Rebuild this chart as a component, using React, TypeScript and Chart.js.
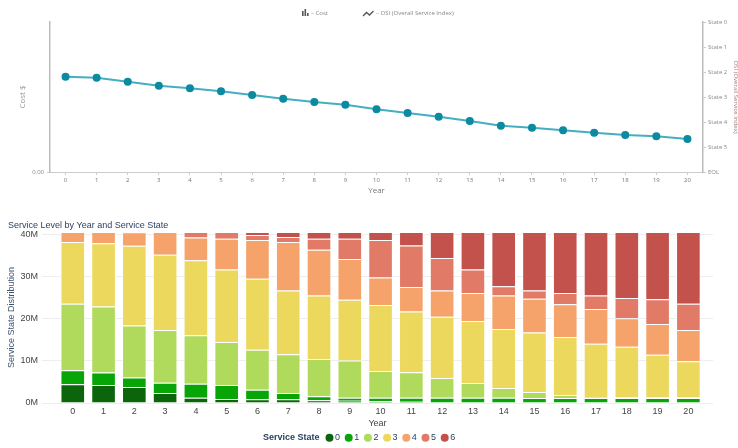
import React, { useEffect, useRef } from "react";
import { Chart, registerables } from "chart.js";
Chart.register(...registerables);

const YEARS = [0, 1, 2, 3, 4, 5, 6, 7, 8, 9, 10, 11, 12, 13, 14, 15, 16, 17, 18, 19, 20];
const YEAR_LABELS = ["0", "1", "2", "3", "4", "5", "6", "7", "8", "9", "10", "11", "12", "13", "14", "15", "16", "17", "18", "19", "20"];

// Overall Service Index (0 = State 0 ... 6 = EOL)
const OSI = [2.19, 2.23, 2.39, 2.55, 2.65, 2.77, 2.92, 3.07, 3.2, 3.31, 3.49, 3.64, 3.79, 3.96, 4.15, 4.23, 4.33, 4.43, 4.52, 4.57, 4.68];
const OSI_TICK_LABELS = ["State 0", "State 1", "State 2", "State 3", "State 4", "State 5", "EOL"];

// Service state distribution, millions
const STATE_0 = [4.45, 4.3, 3.8, 2.4, 1.27, 0.95, 0.87, 0.87, 0.64, 0.56, 0.4, 0.3, 0, 0, 0, 0, 0, 0, 0, 0, 0];
const STATE_1 = [3.35, 2.94, 2.25, 2.4, 3.33, 3.35, 2.31, 1.52, 0.95, 0.71, 0.87, 0.97, 1.27, 1.27, 1.27, 1.2, 1.2, 1.2, 1.2, 1.2, 1.2];
const STATE_2 = [15.8, 15.7, 12.4, 12.6, 11.5, 10.2, 9.47, 9.21, 8.91, 8.83, 6.33, 6.03, 4.7, 3.5, 2.31, 1.43, 0.7, 0.2, 0.15, 0.15, 0.15];
const STATE_3 = [14.7, 15.1, 19.0, 17.9, 17.9, 17.3, 16.95, 15.2, 15.1, 14.5, 15.7, 14.5, 14.53, 14.73, 14.02, 14.17, 13.8, 12.7, 12.05, 10.15, 8.6];
const STATE_4 = [2.4, 2.66, 3.2, 5.4, 5.4, 7.3, 9.2, 11.5, 10.9, 9.7, 6.6, 5.8, 6.3, 6.7, 8.0, 8.0, 7.8, 8.3, 6.8, 7.3, 7.45];
const STATE_5 = [0, 0, 0.05, 0.15, 1.3, 1.6, 1.2, 1.2, 2.6, 4.8, 8.9, 9.9, 7.7, 5.6, 2.2, 2.0, 2.7, 3.2, 4.8, 5.9, 6.2];
const STATE_6 = [0, 0, 0, 0, 0, 0, 0.7, 1.2, 1.6, 1.6, 1.9, 3.2, 6.2, 8.9, 12.9, 13.9, 14.5, 15.1, 15.7, 16.0, 17.1];
const STATE_NAMES = ["0", "1", "2", "3", "4", "5", "6"];
const STATE_COLORS = ["#0b650b", "#08a508", "#b0da5c", "#ecd85c", "#f5a36a", "#e27a68", "#c4524c"];
const Y_TICKS = [0, 10, 20, 30, 40];
const Y_MAX = 40.7;

const TOP_FONT = "'Open Sans', sans-serif";
const BOT_FONT = "'Liberation Sans', Arial, sans-serif";

const topLegendPlugin = {
  id: "topLegend",
  afterDraw(chart: any) {
    const ctx = chart.ctx;
    ctx.save();
    ctx.fillStyle = "#555";
    // bar icon
    ctx.fillRect(302, 11, 1.6, 5);
    ctx.fillRect(304.5, 9, 1.6, 7);
    ctx.fillRect(307, 13, 1.6, 3);
    // line icon
    ctx.strokeStyle = "#555";
    ctx.lineWidth = 1.3;
    ctx.beginPath();
    ctx.moveTo(363, 16);
    ctx.lineTo(366.5, 12.5);
    ctx.lineTo(369.5, 15);
    ctx.lineTo(373.5, 11);
    ctx.stroke();
    ctx.fillStyle = "#888";
    ctx.font = `6px ${TOP_FONT}`;
    ctx.textBaseline = "middle";
    ctx.textAlign = "left";
    ctx.fillText("– Cost", 311, 13.5);
    ctx.fillText("– OSI (Overall Service Index)", 376, 13.5);
    ctx.restore();
  },
};

const botDecorPlugin = {
  id: "botDecor",
  afterDraw(chart: any) {
    const ctx = chart.ctx;
    ctx.save();
    ctx.textBaseline = "middle";
    ctx.textAlign = "left";
    ctx.fillStyle = "#2a3f5f";
    ctx.font = `9px ${BOT_FONT}`;
    ctx.fillText("Service Level by Year and Service State", 8, 21);
    // legend
    const ly = 232.7;
    ctx.font = `bold 9px ${BOT_FONT}`;
    ctx.fillText("Service State", 263, ly);
    ctx.font = `9px ${BOT_FONT}`;
    STATE_NAMES.forEach((name, i) => {
      const cx = 329.5 + i * 19.2;
      ctx.beginPath();
      ctx.fillStyle = STATE_COLORS[i];
      ctx.arc(cx, ly, 4, 0, Math.PI * 2);
      ctx.fill();
      ctx.fillStyle = "#2a3f5f";
      ctx.fillText(name, cx + 5.5, ly);
    });
    ctx.restore();
  },
};

export default function App() {
  const topRef = useRef<HTMLCanvasElement>(null);
  const botRef = useRef<HTMLCanvasElement>(null);

  useEffect(() => {
    const topChart = new Chart(topRef.current as HTMLCanvasElement, {
      type: "line",
      data: {
        labels: YEAR_LABELS,
        datasets: [
          {
            label: "OSI (Overall Service Index)",
            data: OSI,
            yAxisID: "yOsi",
            borderColor: "#45aec2",
            borderWidth: 2,
            pointRadius: 4,
            pointBackgroundColor: "#0b8aa0",
            pointBorderColor: "#0b8aa0",
            pointBorderWidth: 0,
            tension: 0,
          },
        ],
      },
      options: {
        responsive: false,
        animation: false,
        layout: { padding: { top: 22, right: 0, bottom: 9, left: 0 } },
        plugins: { legend: { display: false }, tooltip: { enabled: false } },
        scales: {
          x: {
            type: "category",
            offset: true,
            grid: { display: true, drawOnChartArea: false, tickLength: 3, color: "#ccc" },
            border: { color: "#ccc" },
            ticks: { font: { family: TOP_FONT, size: 6 }, color: "#777", padding: 2, maxRotation: 0, autoSkip: false },
            title: { display: true, text: "Year", font: { family: TOP_FONT, size: 8 }, color: "#777", padding: 0 },
            afterFit: (s: any) => {
              s.height = 24;
            },
          },
          yCost: {
            type: "linear",
            position: "left",
            min: 0,
            max: 1,
            afterBuildTicks: (s: any) => {
              s.ticks = [{ value: 0 }];
            },
            ticks: { callback: (v: any) => Number(v).toFixed(2), font: { family: TOP_FONT, size: 6 }, color: "#888", padding: 3 },
            grid: { display: true, drawOnChartArea: false, tickLength: 3, color: "#ccc" },
            border: { color: "#bbb", width: 1.5 },
            title: { display: true, text: "Cost $", font: { family: TOP_FONT, size: 8 }, color: "#999", padding: { top: 18, bottom: 0 } },
            afterFit: (s: any) => {
              s.width = 50;
            },
          },
          yOsi: {
            type: "linear",
            position: "right",
            reverse: true,
            min: 0,
            max: 6,
            ticks: {
              stepSize: 1,
              callback: (v: any) => OSI_TICK_LABELS[v],
              font: { family: TOP_FONT, size: 6 },
              color: "#888",
              padding: 2,
            },
            grid: { display: true, drawOnChartArea: false, tickLength: 3, color: "#ccc" },
            border: { color: "#bbb", width: 1.5 },
            title: { display: true, text: "OSI (Overall Service Index)", font: { family: TOP_FONT, size: 6 }, color: "#a07a78", padding: { top: -1, bottom: 0 } },
            afterFit: (s: any) => {
              s.width = 35;
            },
          },
        },
      },
      plugins: [topLegendPlugin],
    });

    const series = [STATE_0, STATE_1, STATE_2, STATE_3, STATE_4, STATE_5, STATE_6];
    const botChart = new Chart(botRef.current as HTMLCanvasElement, {
      type: "bar",
      data: {
        datasets: series.map((vals, i) => ({
          label: STATE_NAMES[i],
          data: YEARS.map((yr, j) => ({ x: yr, y: vals[j] })),
          backgroundColor: STATE_COLORS[i],
          borderColor: "rgba(255,255,255,0.35)",
          borderWidth: 1,
          barPercentage: 1,
          categoryPercentage: 0.8,
        })),
      },
      options: {
        responsive: false,
        animation: false,
        layout: { padding: { top: 27, right: 25, bottom: 19, left: 0 } },
        plugins: { legend: { display: false }, tooltip: { enabled: false } },
        scales: {
          x: {
            type: "linear",
            stacked: true,
            offset: false,
            min: -1,
            max: 20.8,
            afterBuildTicks: (s: any) => {
              s.ticks = YEARS.map((y) => ({ value: y }));
            },
            grid: { display: false, drawTicks: false },
            border: { display: false },
            ticks: { font: { family: BOT_FONT, size: 9 }, color: "#444", padding: 3, maxRotation: 0, autoSkip: false },
            title: { display: true, text: "Year", font: { family: BOT_FONT, size: 9 }, color: "#444", padding: 0 },
            afterFit: (s: any) => {
              s.height = 26;
            },
          },
          y: {
            type: "linear",
            stacked: true,
            min: 0,
            max: Y_MAX,
            afterBuildTicks: (s: any) => {
              s.ticks = Y_TICKS.map((v) => ({ value: v }));
            },
            ticks: { callback: (v: any) => `${v}M`, font: { family: BOT_FONT, size: 9 }, color: "#444", padding: 4 },
            grid: { color: "#eeeeee", drawTicks: false },
            border: { display: false },
            title: { display: true, text: "Service State Distribution", font: { family: BOT_FONT, size: 9 }, color: "#3d5470", padding: { top: 6, bottom: 0 } },
            afterFit: (s: any) => {
              s.width = 42;
            },
          },
        },
      },
      plugins: [botDecorPlugin],
    });

    return () => {
      topChart.destroy();
      botChart.destroy();
    };
  }, []);

  return (
    <div style={{ position: "absolute", left: 0, top: 0, width: 738, height: 448, background: "#fff" }}>
      <canvas ref={topRef} width={738} height={205} style={{ position: "absolute", left: 0, top: 0, width: 738, height: 205 }} />
      <canvas ref={botRef} width={738} height={243} style={{ position: "absolute", left: 0, top: 205, width: 738, height: 243 }} />
    </div>
  );
}
